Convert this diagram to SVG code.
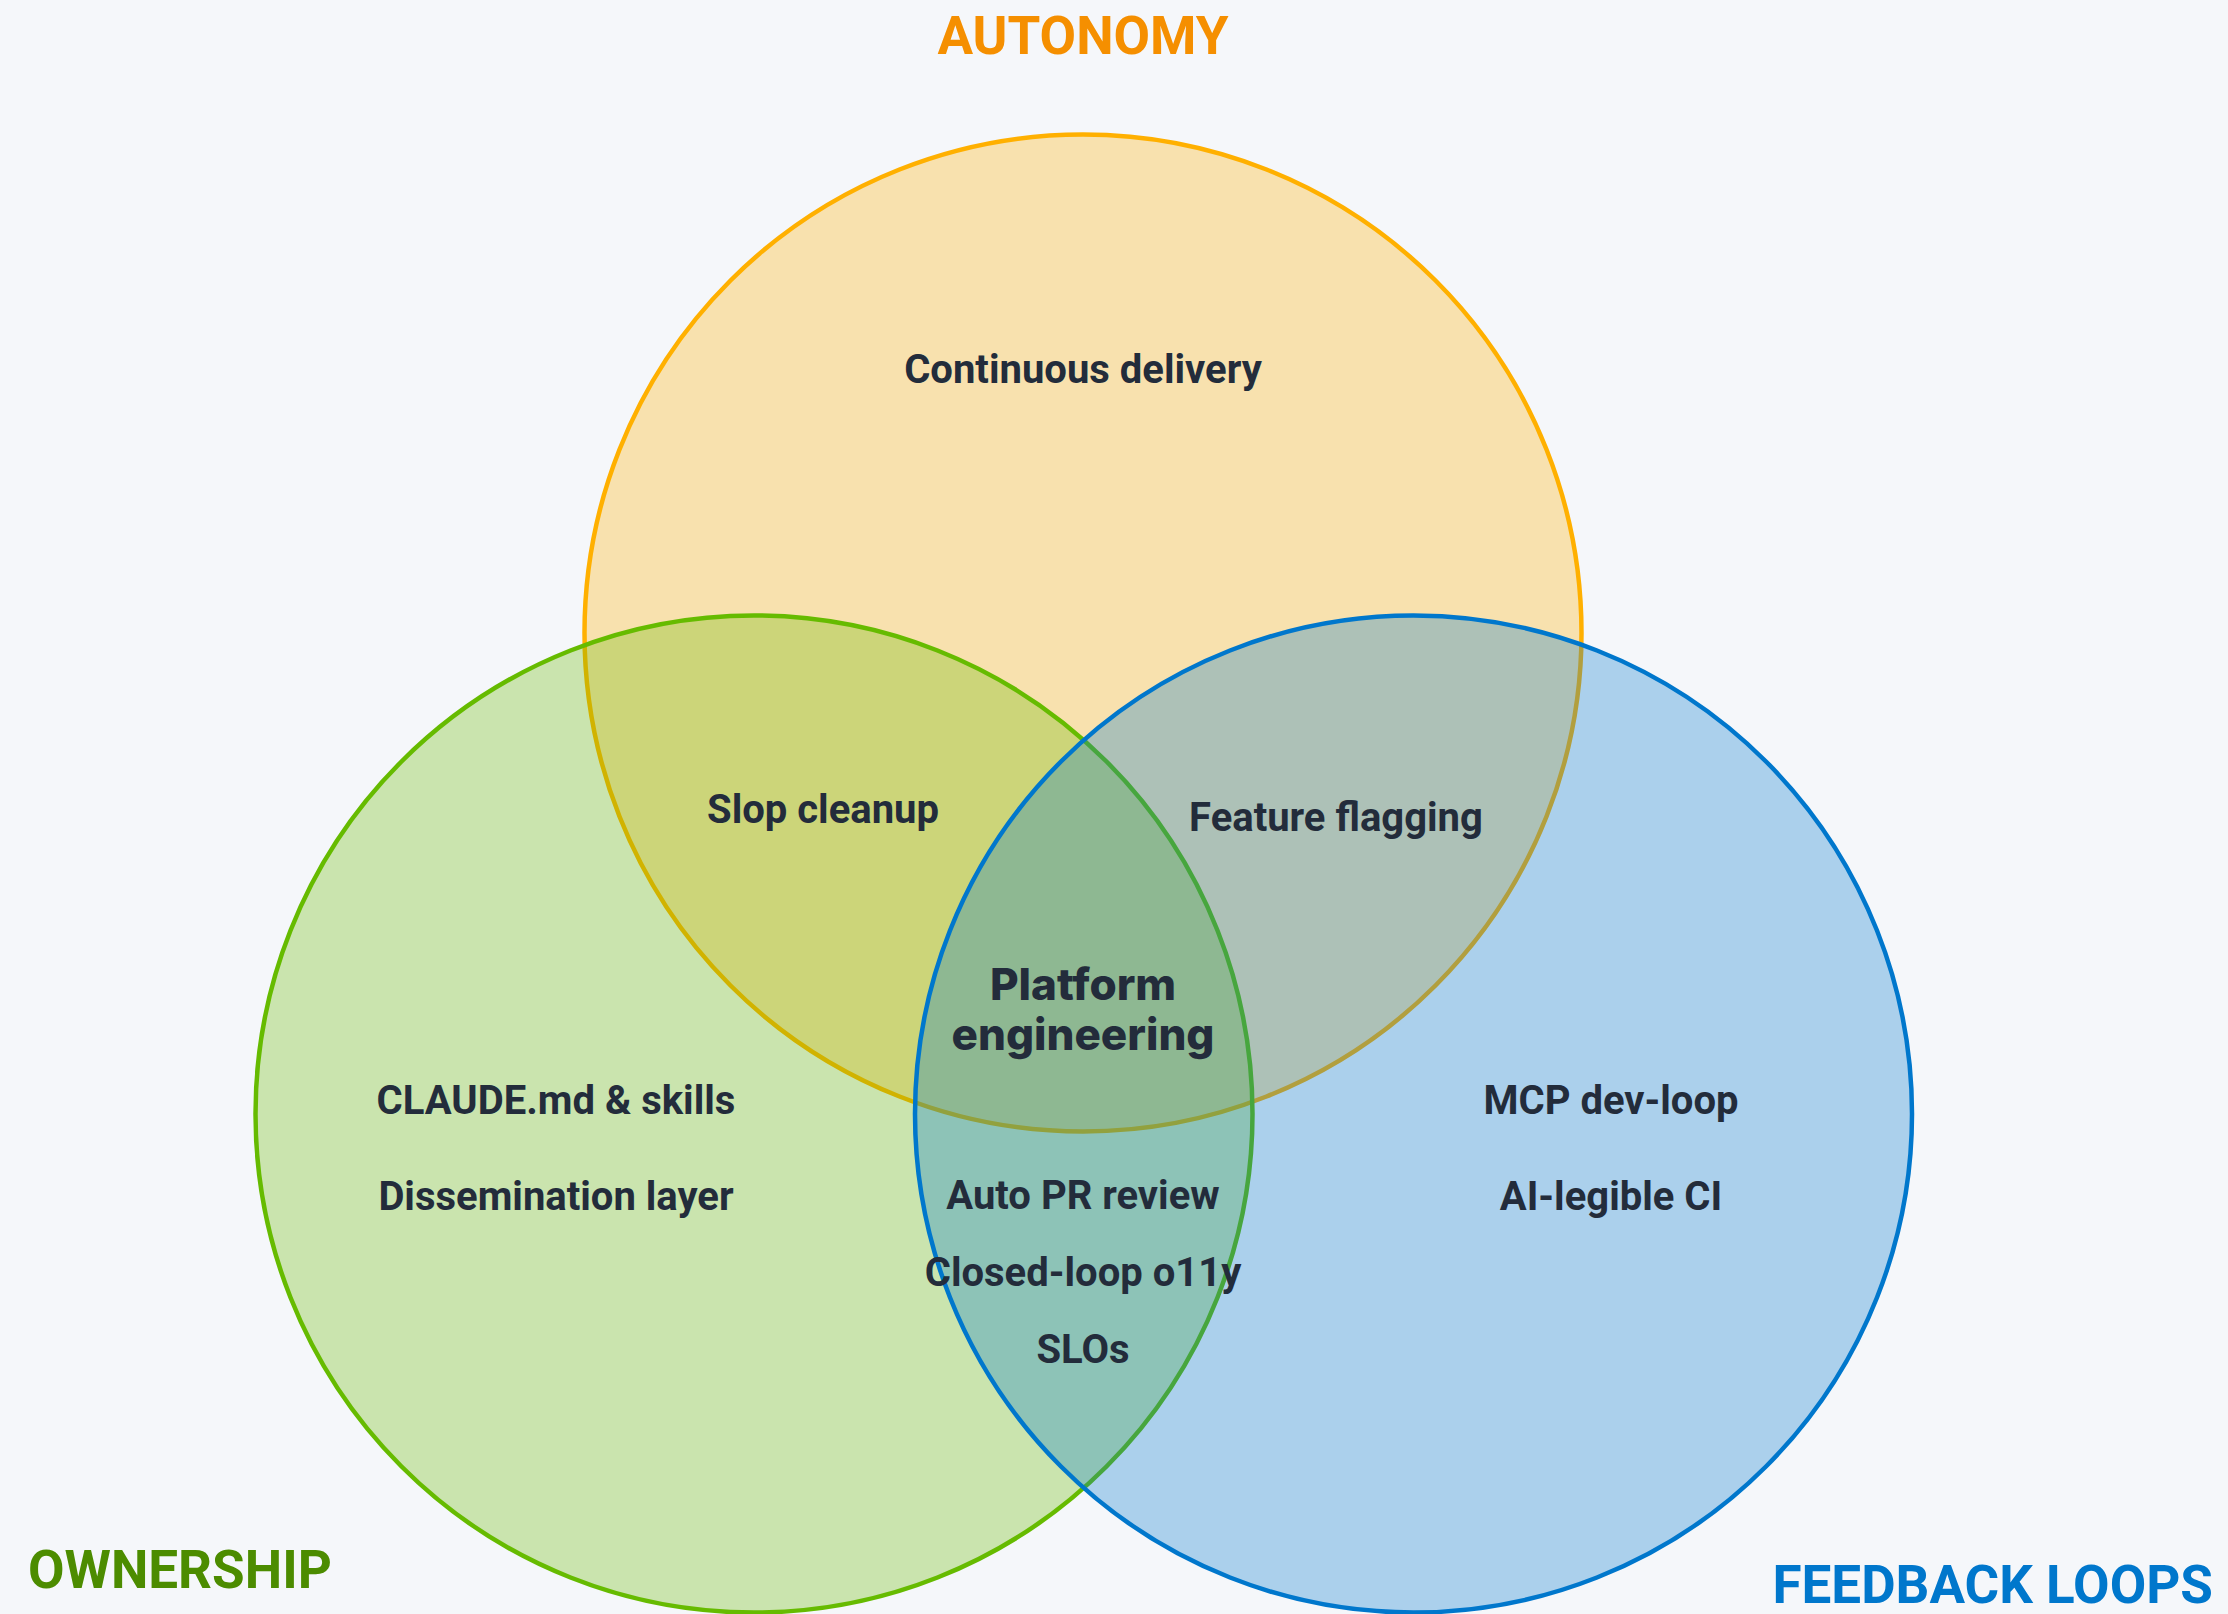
<svg xmlns="http://www.w3.org/2000/svg" width="2228" height="1614" viewBox="0 0 2228 1614">
<style>
.set{stroke-width:4.5;fill-opacity:0.3}
.lbl{font-family:Roboto,"Liberation Sans",Arial,sans-serif;font-weight:700;font-size:40px;fill:#232c3b;text-anchor:middle}
.core{font-family:Inter,"Liberation Sans",Arial,sans-serif;font-weight:800;font-size:44px;fill:#232c3b;text-anchor:middle}
.title{font-family:Roboto,"Liberation Sans",Arial,sans-serif;font-weight:700;font-size:53px}
</style>
<rect width="2228" height="1614" fill="#f5f7fa"/>
<g id="autonomy">
<circle class="set" cx="1083" cy="633" r="498.5" fill="#ffb000" stroke="#ffb000"/>
</g>
<g id="ownership">
<circle class="set" cx="754" cy="1114" r="498.5" fill="#66bb00" stroke="#66bb00"/>
</g>
<g id="feedback">
<circle class="set" cx="1413.5" cy="1114" r="498.5" fill="#0077cc" stroke="#0077cc"/>
</g>
<g id="connectors"></g>
<g id="titles">
<text class="title" x="1083" y="54" text-anchor="middle" fill="#f58f00">AUTONOMY</text>
<text class="title" x="28" y="1588" fill="#4c8c00">OWNERSHIP</text>
<text class="title" x="2213" y="1603" text-anchor="end" fill="#0077cc">FEEDBACK LOOPS</text>
</g>
<g id="labels">
<text class="lbl" x="1083" y="383">Continuous delivery</text>
<text class="lbl" x="823" y="823">Slop cleanup</text>
<text class="lbl" x="1336" y="831">Feature flagging</text>
<text class="lbl" x="556" y="1114">CLAUDE.md &amp; skills</text>
<text class="lbl" x="556" y="1210">Dissemination layer</text>
<text class="lbl" x="1611" y="1114">MCP dev-loop</text>
<text class="lbl" x="1611" y="1210">AI-legible CI</text>
<text class="lbl" x="1083" y="1209">Auto PR review</text>
<text class="lbl" x="1083" y="1286">Closed-loop o11y</text>
<text class="lbl" x="1083" y="1363">SLOs</text>
</g>
<g id="core">
<text class="core" x="1083" y="1000">Platform</text>
<text class="core" x="1083" y="1050">engineering</text>
</g>
</svg>
